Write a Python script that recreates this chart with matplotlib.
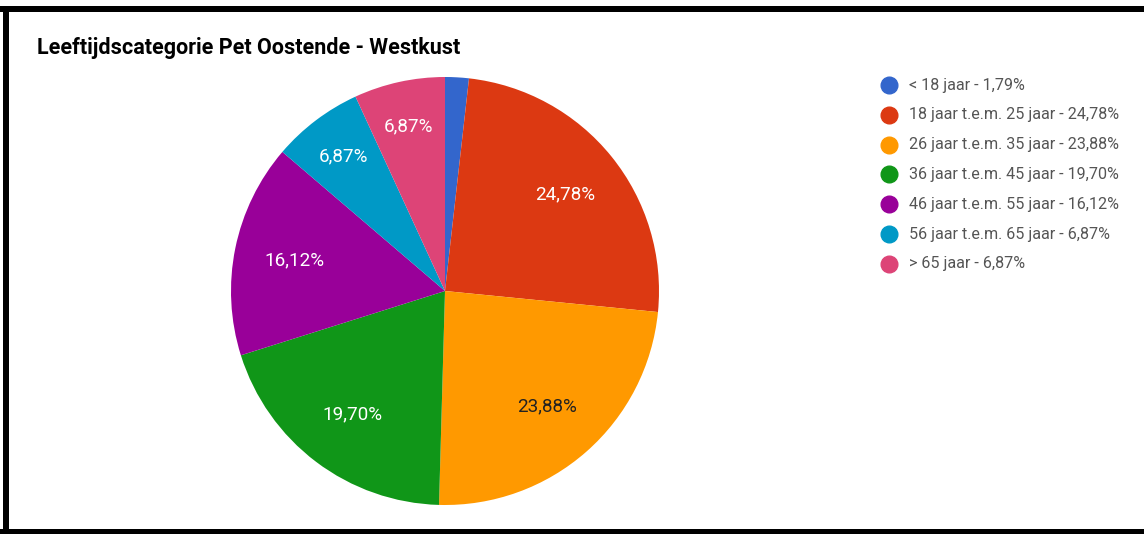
import matplotlib.pyplot as plt
import numpy as np
from matplotlib.lines import Line2D

plt.rcParams['font.family'] = ['Roboto', 'DejaVu Sans']

# age groups and their share (%)
categories = ['< 18 jaar', '18 jaar t.e.m. 25 jaar', '26 jaar t.e.m. 35 jaar',
              '36 jaar t.e.m. 45 jaar', '46 jaar t.e.m. 55 jaar',
              '56 jaar t.e.m. 65 jaar', '> 65 jaar']
shares = [1.79, 24.78, 23.88, 19.70, 16.12, 6.87, 6.87]
colors = ['#3366CC', '#DC3912', '#FF9900', '#109618', '#990099', '#0099C6', '#DD4477']
label_colors = ['white', 'white', '#222222', 'white', 'white', 'white', 'white']

W, H = 1144, 534
fig = plt.figure(figsize=(W / 100, H / 100), dpi=100)

# pie: centre (445, 291), radius 214 px
cx, cy, r = 445, 291, 214
ax = fig.add_axes([(cx - r) / W, 1 - (cy + r) / H, 2 * r / W, 2 * r / H])
wedges, _ = ax.pie(shares, colors=colors, startangle=90, counterclock=False,
                   wedgeprops=dict(linewidth=0))
ax.set_aspect('equal')
ax.set_xlim(-1, 1)
ax.set_ylim(-1, 1)

# percentage labels, skip the tiny slice; narrow slices get pushed outwards
total = sum(shares)
start = 90.0
for val, col in zip(shares, label_colors):
    ang = start - val / total * 360 / 2
    start -= val / total * 360
    if val < 3:
        continue
    d = 0.79 if val < 10 else 0.72
    x = d * np.cos(np.radians(ang))
    y = d * np.sin(np.radians(ang))
    ax.text(x, y, f'{val:.2f}'.replace('.', ',') + '%', ha='center', va='center',
            color=col, fontsize=13.6)

# title
fig.text(37 / W, 1 - 48 / H, 'Leeftijdscategorie Pet Oostende - Westkust',
         fontsize=15.5, fontweight='bold', color='black', va='center', ha='left')

# legend
for i, (cat, val, col) in enumerate(zip(categories, shares, colors)):
    ypx = 85 + i * 29.8
    fig.add_artist(Line2D([889 / W], [1 - ypx / H], marker='o', markersize=12,
                          color=col, linestyle='none'))
    fig.text(909 / W, 1 - ypx / H, f'{cat} - ' + f'{val:.2f}'.replace('.', ',') + '%',
             fontsize=11.6, color='#555555', va='center', ha='left')

# black frame (left, top, bottom)
lw = 6 * 72 / 100
fig.add_artist(Line2D([6 / W, 6 / W], [0, 1 - 8.5 / H], color='black', lw=lw))
fig.add_artist(Line2D([3 / W, 1], [1 - 8.5 / H, 1 - 8.5 / H], color='black', lw=lw))
fig.add_artist(Line2D([3 / W, 1], [1 - 531.5 / H, 1 - 531.5 / H], color='black', lw=lw))

fig.savefig('out.png', dpi=100)
